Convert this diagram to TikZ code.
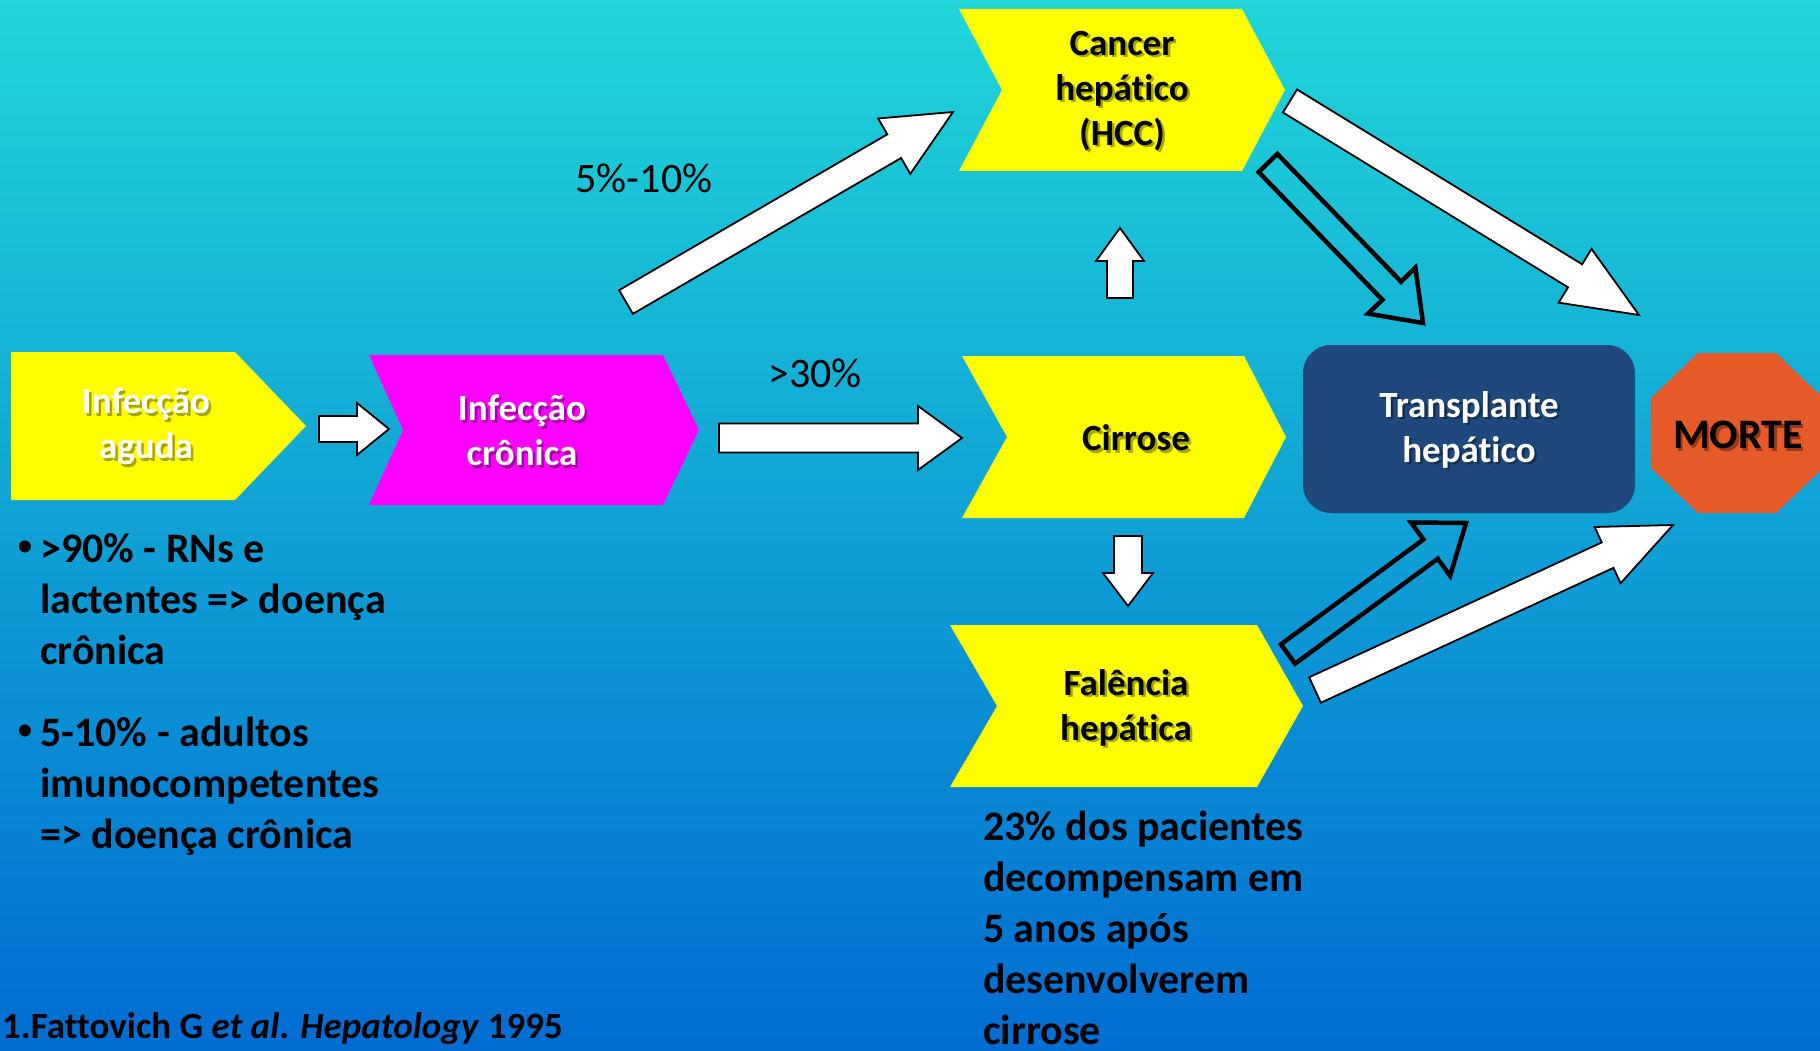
\documentclass[tikz,border=0pt]{standalone}
\usepackage{fontspec}
\setmainfont{Carlito}[Ligatures={TeX,NoCommon}]
\usetikzlibrary{calc}
\definecolor{bgtop}{RGB}{32,214,216}
\definecolor{bgmid}{RGB}{12,162,226}
\definecolor{bgbot}{RGB}{0,108,210}
\definecolor{transcol}{RGB}{31,73,125}
\definecolor{mortecol}{RGB}{230,90,42}
\definecolor{yel}{RGB}{255,255,0}
\definecolor{mag}{RGB}{255,0,255}

% block arrow: #1 style, #2 start coord, #3 tip coord, #4 shaft half width, #5 head half width, #6 head length
\newcommand\blockarrow[6]{%
  \coordinate (#2#3h) at ($(#3)!#6pt!(#2)$);
  \draw[#1] ($(#2)!#4pt!90:(#3)$) -- ($(#2#3h)!#4pt!90:(#3)$) -- ($(#2#3h)!#5pt!90:(#3)$)
    -- (#3) -- ($(#2#3h)!#5pt!-90:(#3)$) -- ($(#2#3h)!#4pt!-90:(#3)$) -- ($(#2)!#4pt!-90:(#3)$) -- cycle;}

% chevron: #1 fill, #2 left, #3 right, #4 top, #5 bottom, #6 notch depth, #7 point depth
\newcommand\chevshape[7]{%
  \fill[#1] (#2,#4) -- ({#3-#7},#4) -- (#3,{(#4+#5)/2}) -- ({#3-#7},#5) -- (#2,#5)
    -- ({#2+#6},{(#4+#5)/2}) -- cycle;}

\tikzset{
  lab/.style={inner sep=0pt, align=center, font=\bfseries\fontsize{37}{45}\selectfont},
  body/.style={inner sep=0pt, anchor=base west, font=\bfseries\fontsize{42}{51}\selectfont},
  bulletsty/.style={inner sep=0pt, font=\fontsize{34}{40}\selectfont},
  pct/.style={inner sep=0pt, font=\fontsize{42}{50}\selectfont},
  whitearrow/.style={fill=white, draw=black, line width=1.8pt, line join=miter},
  hollowarrow/.style={draw=black, line width=4.5pt, line join=miter},
}

% label with soft shadow: #1 extra style, #2 name, #3 x, #4 y, #5 colour, #6 text
\newcommand\lab[6]{%
  \node[lab, #1, text=black, opacity=0.35] (#2s) at ({#3+2.5},{#4+2.5}) {#6};
  \node[lab, #1, text=#5] (#2) at (#3,#4) {#6};}

\begin{document}
\begin{tikzpicture}[x=1pt,y=-1pt]
\useasboundingbox (0,0) rectangle (1820,1051);
\shade[top color=bgtop, middle color=bgmid, bottom color=bgbot] (0,0) rectangle (1820,1051);

% shapes
\chevshape{yel}{11}{306}{352}{500}{0}{71}
\chevshape{mag}{369}{699}{355}{505}{34}{36}
\chevshape{yel}{959}{1285}{9}{171}{43}{43}
\chevshape{yel}{962}{1286}{356}{518}{45}{42}
\chevshape{yel}{950}{1303}{625}{787}{47}{46}
\fill[transcol, rounded corners=28pt] (1303,345) rectangle (1635,513);
\fill[mortecol] (1698,353) -- (1776,353) -- (1823,398) -- (1823,468) -- (1776,513)
  -- (1698,513) -- (1651,468) -- (1651,398) -- cycle;

% arrow end points
\coordinate (a1s) at (319,429);   \coordinate (a1e) at (389,429);
\coordinate (a2s) at (719,438);   \coordinate (a2e) at (962,438);
\coordinate (a3s) at (626,302);   \coordinate (a3e) at (953,112);
\coordinate (a4s) at (1120,298);  \coordinate (a4e) at (1120,228);
\coordinate (a5s) at (1128,536);  \coordinate (a5e) at (1128,606);
\coordinate (a6s) at (1268,163);  \coordinate (a6e) at (1423,323);
\coordinate (a7s) at (1290,101);  \coordinate (a7e) at (1639,315);
\coordinate (a8s) at (1288,654);  \coordinate (a8e) at (1466,523);
\coordinate (a9s) at (1315,690);  \coordinate (a9e) at (1673,525);

\blockarrow{whitearrow}{a1s}{a1e}{13}{26}{32}
\blockarrow{whitearrow}{a2s}{a2e}{14.5}{32}{44}
\blockarrow{whitearrow}{a3s}{a3e}{13.7}{32}{68}
\blockarrow{whitearrow}{a4s}{a4e}{13}{24}{33}
\blockarrow{whitearrow}{a5s}{a5e}{14}{25}{33}
\blockarrow{hollowarrow}{a6s}{a6e}{13}{33}{45}
\blockarrow{whitearrow}{a7s}{a7e}{13.5}{31.5}{75}
\blockarrow{hollowarrow}{a8s}{a8e}{12}{33}{44}
\blockarrow{whitearrow}{a9s}{a9e}{14}{31}{72}

% shape labels
\lab{}{aguda}{146}{426.5}{white}{Infecção\\aguda}
\lab{}{cronica}{522}{430.5}{white}{Infecção\\crônica}
\lab{}{cancer}{1122}{91}{black}{Cancer\\hepático\\(HCC)}
\lab{}{cirrose}{1136}{438}{black}{Cirrose}
\lab{}{falencia}{1126}{707.5}{black}{Falência\\hepática}
\lab{}{transpl}{1469}{429.5}{white}{Transplante\\hepático}
\lab{font=\bfseries\fontsize{42}{50}\selectfont}{morte}{1738}{435}{black}{MORTE}

% percentages
\node[pct] (p1) at (644,178) {5\%-10\%};
\node[pct] (p2) at (815,373) {>30\%};

% bullet text
\node[bulletsty] (bu1) at (25,549) {•};
\node[body] (b1a) at (40,562) {>90\% - RNs e};
\node[body] (b1b) at (40,613) {lactentes => doença};
\node[body] (b1c) at (40,664) {crônica};
\node[bulletsty] (bu2) at (25,733) {•};
\node[body] (b2a) at (40,746) {5-10\% - adultos};
\node[body] (b2b) at (40,797) {imunocompetentes};
\node[body] (b2c) at (40,848) {=> doença crônica};

% decompensation text
\node[body] (d1) at (983,840) {23\% dos pacientes};
\node[body] (d2) at (983,891) {decompensam em};
\node[body] (d3) at (983,942) {5 anos após};
\node[body] (d4) at (983,993) {desenvolverem};
\node[body] (d5) at (983,1044) {cirrose};

% citation
\node[inner sep=0pt, anchor=base west, font=\bfseries\fontsize{37}{44}\selectfont] (cit) at (2,1038)
  {1.Fattovich G \textit{et al}. \textit{Hepatology} 1995};
\end{tikzpicture}
\end{document}
